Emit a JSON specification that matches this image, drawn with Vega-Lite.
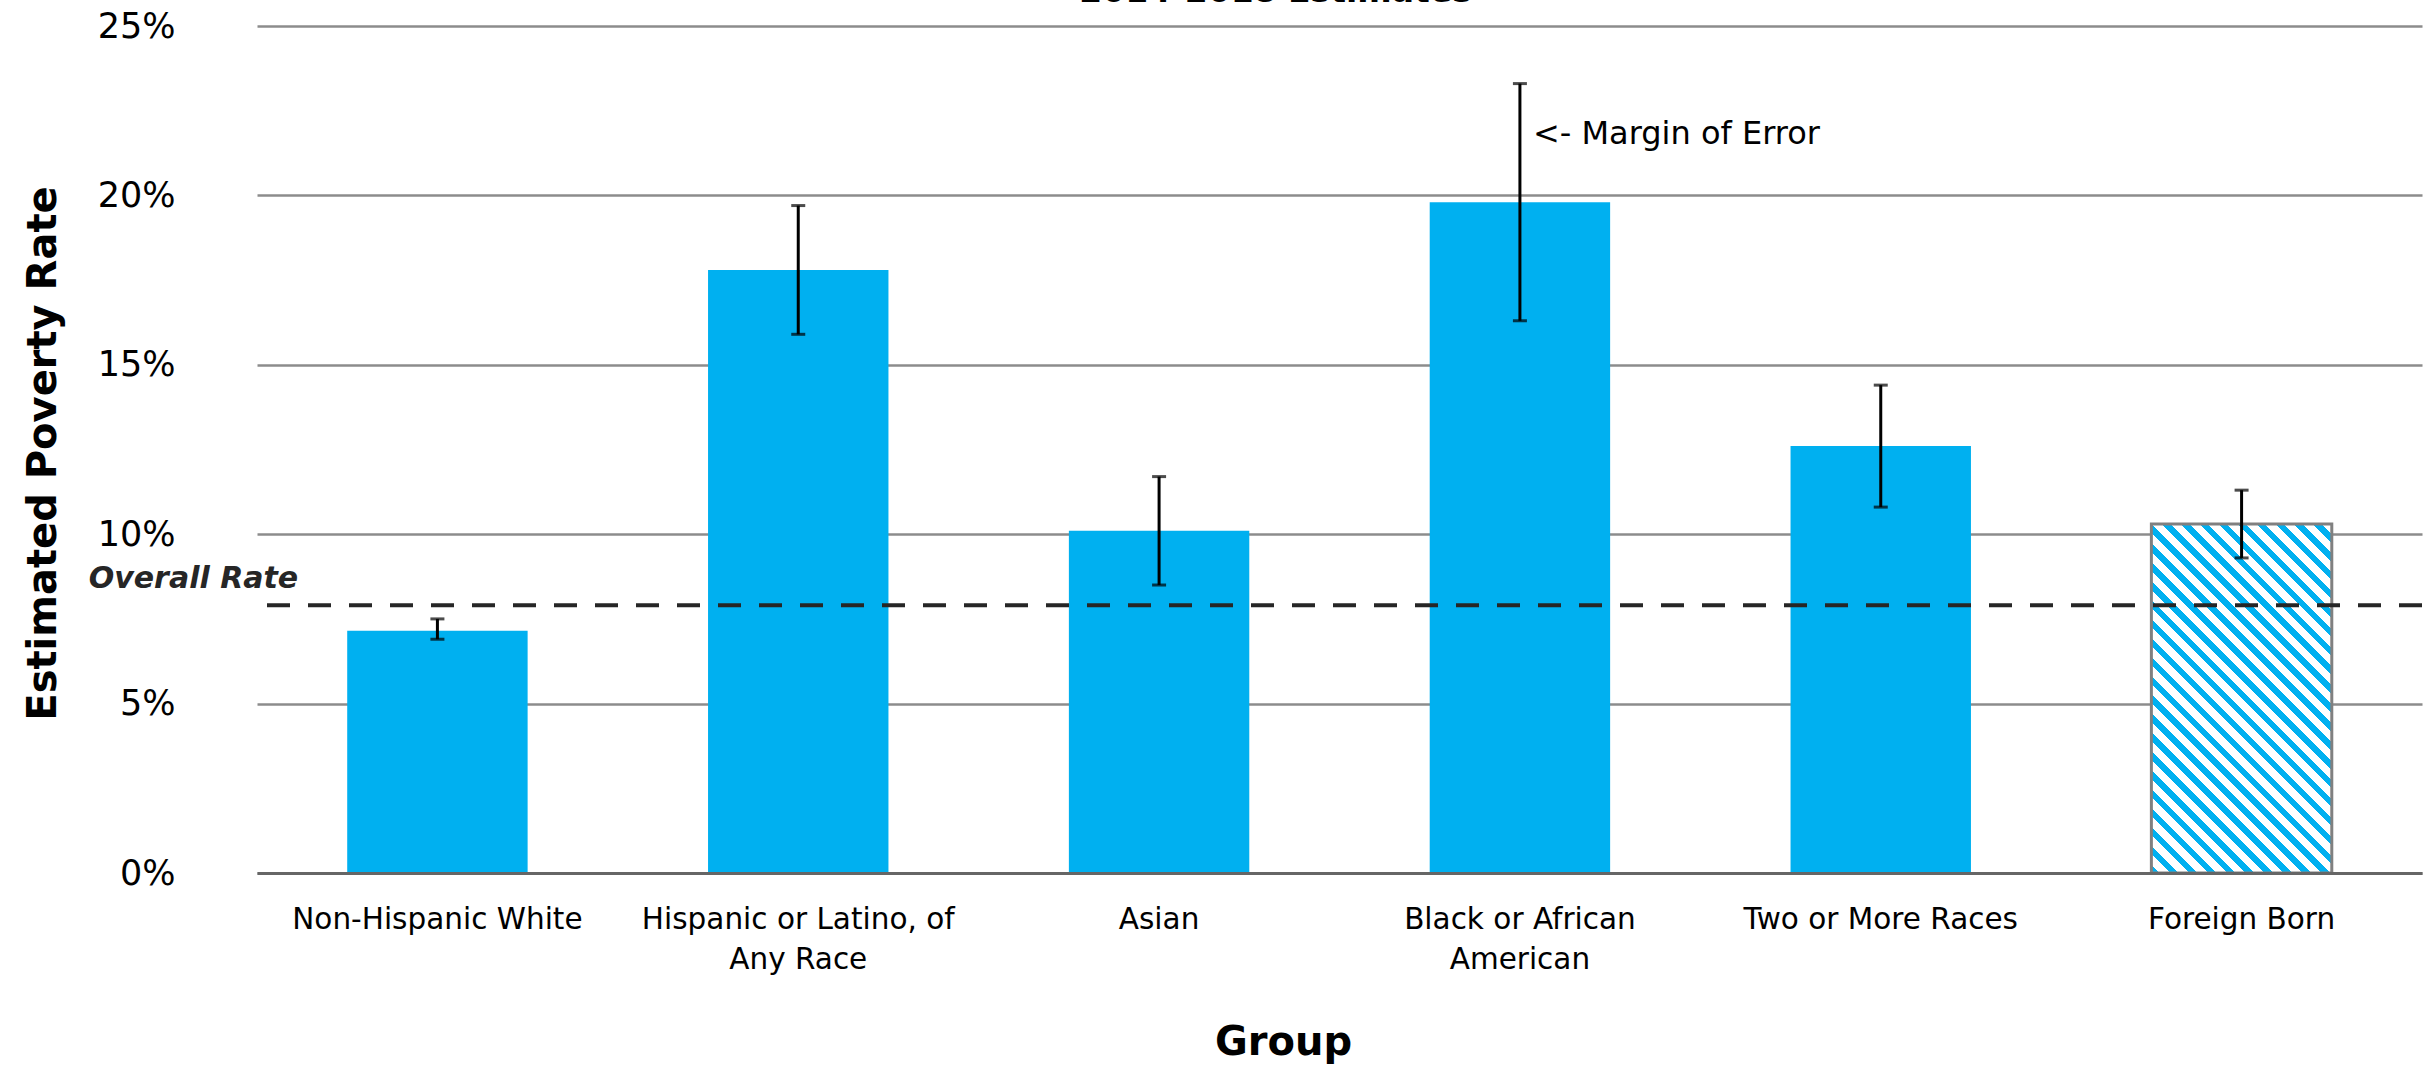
{
  "$schema": "https://vega.github.io/schema/vega-lite/v6.json",
  "autosize": {"type": "none"},
  "width": 2165,
  "height": 847,
  "padding": {"left": 257, "top": 26, "right": 13, "bottom": 196},
  "background": "#ffffff",
  "config": {"view": {"stroke": null}, "font": "DejaVu Sans"},
  "datasets": {
    "groups": [
      {"group": "Non-Hispanic White", "rate": 7.15, "low": 6.9, "high": 7.5},
      {"group": "Hispanic or Latino, of Any Race", "rate": 17.8, "low": 15.9, "high": 19.7},
      {"group": "Asian", "rate": 10.1, "low": 8.5, "high": 11.7},
      {"group": "Black or African American", "rate": 19.8, "low": 16.3, "high": 23.3},
      {"group": "Two or More Races", "rate": 12.6, "low": 10.8, "high": 14.4},
      {"group": "Foreign Born", "rate": 10.3, "low": 9.3, "high": 11.3}
    ],
    "overall": [{"label": "Overall Rate", "rate": 7.9}]
  },
  "data": {"name": "groups"},
  "layer": [
    {
      "transform": [{"filter": "datum.group != 'Foreign Born'"}],
      "mark": {"type": "bar", "fill": "#00B0F0"},
      "encoding": {
        "x": {"field": "group", "type": "nominal", "sort": null,
          "scale": {"domain": ["Non-Hispanic White", "Hispanic or Latino, of Any Race", "Asian", "Black or African American", "Two or More Races", "Foreign Born"], "paddingInner": 0.5, "paddingOuter": 0.25},
          "axis": {"title": "Group", "titleFontSize": 40, "titleFontWeight": "bold", "titleColor": "#000000", "titleX": 1026, "titleY": 169, "titleBaseline": "middle", "titleAlign": "center",
            "labelAngle": 0, "labelFontSize": 29.5, "labelColor": "#000000", "labelPadding": 32, "labelBaseline": "top", "labelLineHeight": 40, "labelLimit": 0,
            "labelExpr": "datum.value == 'Hispanic or Latino, of Any Race' ? ['Hispanic or Latino, of', 'Any Race'] : datum.value == 'Black or African American' ? ['Black or African', 'American'] : datum.label",
            "ticks": false, "tickSize": 0, "domainColor": "#666666", "domainWidth": 3, "grid": false, "zindex": 1}},
        "y": {"field": "rate", "type": "quantitative",
          "scale": {"domain": [0, 25], "nice": false, "zero": true},
          "axis": {"title": "Estimated Poverty Rate", "titleFontSize": 40, "titleFontWeight": "bold", "titleColor": "#000000", "titleX": -214, "titleY": 427, "titleBaseline": "middle", "titleAlign": "center", "titleAngle": -90,
            "values": [0, 5, 10, 15, 20, 25], "labelExpr": "datum.value + '%'", "labelFontSize": 35, "labelColor": "#000000", "labelPadding": 82, "labelBaseline": "middle",
            "ticks": false, "tickSize": 0, "domain": false, "grid": true, "gridColor": "#8c8c8c", "gridWidth": 2.5, "zindex": 0}}
      }
    },
    {
      "transform": [{"filter": "datum.group == 'Foreign Born'"}],
      "mark": {"type": "bar", "stroke": "#808080", "strokeWidth": 3,
        "fill": {"gradient": "linear", "x1": 0, "y1": 1, "x2": 0.6188, "y2": -0.1971,
          "stops": [
            {"offset": 0, "color": "#00B0F0"}, {"offset": 0.01607, "color": "#00B0F0"}, {"offset": 0.01607, "color": "#ffffff"}, {"offset": 0.03571, "color": "#ffffff"},
            {"offset": 0.03571, "color": "#00B0F0"}, {"offset": 0.05179, "color": "#00B0F0"}, {"offset": 0.05179, "color": "#ffffff"}, {"offset": 0.07143, "color": "#ffffff"},
            {"offset": 0.07143, "color": "#00B0F0"}, {"offset": 0.0875, "color": "#00B0F0"}, {"offset": 0.0875, "color": "#ffffff"}, {"offset": 0.10714, "color": "#ffffff"},
            {"offset": 0.10714, "color": "#00B0F0"}, {"offset": 0.12321, "color": "#00B0F0"}, {"offset": 0.12321, "color": "#ffffff"}, {"offset": 0.14286, "color": "#ffffff"},
            {"offset": 0.14286, "color": "#00B0F0"}, {"offset": 0.15893, "color": "#00B0F0"}, {"offset": 0.15893, "color": "#ffffff"}, {"offset": 0.17857, "color": "#ffffff"},
            {"offset": 0.17857, "color": "#00B0F0"}, {"offset": 0.19464, "color": "#00B0F0"}, {"offset": 0.19464, "color": "#ffffff"}, {"offset": 0.21429, "color": "#ffffff"},
            {"offset": 0.21429, "color": "#00B0F0"}, {"offset": 0.23036, "color": "#00B0F0"}, {"offset": 0.23036, "color": "#ffffff"}, {"offset": 0.25, "color": "#ffffff"},
            {"offset": 0.25, "color": "#00B0F0"}, {"offset": 0.26607, "color": "#00B0F0"}, {"offset": 0.26607, "color": "#ffffff"}, {"offset": 0.28571, "color": "#ffffff"},
            {"offset": 0.28571, "color": "#00B0F0"}, {"offset": 0.30179, "color": "#00B0F0"}, {"offset": 0.30179, "color": "#ffffff"}, {"offset": 0.32143, "color": "#ffffff"},
            {"offset": 0.32143, "color": "#00B0F0"}, {"offset": 0.3375, "color": "#00B0F0"}, {"offset": 0.3375, "color": "#ffffff"}, {"offset": 0.35714, "color": "#ffffff"},
            {"offset": 0.35714, "color": "#00B0F0"}, {"offset": 0.37321, "color": "#00B0F0"}, {"offset": 0.37321, "color": "#ffffff"}, {"offset": 0.39286, "color": "#ffffff"},
            {"offset": 0.39286, "color": "#00B0F0"}, {"offset": 0.40893, "color": "#00B0F0"}, {"offset": 0.40893, "color": "#ffffff"}, {"offset": 0.42857, "color": "#ffffff"},
            {"offset": 0.42857, "color": "#00B0F0"}, {"offset": 0.44464, "color": "#00B0F0"}, {"offset": 0.44464, "color": "#ffffff"}, {"offset": 0.46429, "color": "#ffffff"},
            {"offset": 0.46429, "color": "#00B0F0"}, {"offset": 0.48036, "color": "#00B0F0"}, {"offset": 0.48036, "color": "#ffffff"}, {"offset": 0.5, "color": "#ffffff"},
            {"offset": 0.5, "color": "#00B0F0"}, {"offset": 0.51607, "color": "#00B0F0"}, {"offset": 0.51607, "color": "#ffffff"}, {"offset": 0.53571, "color": "#ffffff"},
            {"offset": 0.53571, "color": "#00B0F0"}, {"offset": 0.55179, "color": "#00B0F0"}, {"offset": 0.55179, "color": "#ffffff"}, {"offset": 0.57143, "color": "#ffffff"},
            {"offset": 0.57143, "color": "#00B0F0"}, {"offset": 0.5875, "color": "#00B0F0"}, {"offset": 0.5875, "color": "#ffffff"}, {"offset": 0.60714, "color": "#ffffff"},
            {"offset": 0.60714, "color": "#00B0F0"}, {"offset": 0.62321, "color": "#00B0F0"}, {"offset": 0.62321, "color": "#ffffff"}, {"offset": 0.64286, "color": "#ffffff"},
            {"offset": 0.64286, "color": "#00B0F0"}, {"offset": 0.65893, "color": "#00B0F0"}, {"offset": 0.65893, "color": "#ffffff"}, {"offset": 0.67857, "color": "#ffffff"},
            {"offset": 0.67857, "color": "#00B0F0"}, {"offset": 0.69464, "color": "#00B0F0"}, {"offset": 0.69464, "color": "#ffffff"}, {"offset": 0.71429, "color": "#ffffff"},
            {"offset": 0.71429, "color": "#00B0F0"}, {"offset": 0.73036, "color": "#00B0F0"}, {"offset": 0.73036, "color": "#ffffff"}, {"offset": 0.75, "color": "#ffffff"},
            {"offset": 0.75, "color": "#00B0F0"}, {"offset": 0.76607, "color": "#00B0F0"}, {"offset": 0.76607, "color": "#ffffff"}, {"offset": 0.78571, "color": "#ffffff"},
            {"offset": 0.78571, "color": "#00B0F0"}, {"offset": 0.80179, "color": "#00B0F0"}, {"offset": 0.80179, "color": "#ffffff"}, {"offset": 0.82143, "color": "#ffffff"},
            {"offset": 0.82143, "color": "#00B0F0"}, {"offset": 0.8375, "color": "#00B0F0"}, {"offset": 0.8375, "color": "#ffffff"}, {"offset": 0.85714, "color": "#ffffff"},
            {"offset": 0.85714, "color": "#00B0F0"}, {"offset": 0.87321, "color": "#00B0F0"}, {"offset": 0.87321, "color": "#ffffff"}, {"offset": 0.89286, "color": "#ffffff"},
            {"offset": 0.89286, "color": "#00B0F0"}, {"offset": 0.90893, "color": "#00B0F0"}, {"offset": 0.90893, "color": "#ffffff"}, {"offset": 0.92857, "color": "#ffffff"},
            {"offset": 0.92857, "color": "#00B0F0"}, {"offset": 0.94464, "color": "#00B0F0"}, {"offset": 0.94464, "color": "#ffffff"}, {"offset": 0.96429, "color": "#ffffff"},
            {"offset": 0.96429, "color": "#00B0F0"}, {"offset": 0.98036, "color": "#00B0F0"}, {"offset": 0.98036, "color": "#ffffff"}, {"offset": 1, "color": "#ffffff"}
          ]}},
      "encoding": {
        "x": {"field": "group", "type": "nominal", "sort": null},
        "y": {"field": "rate", "type": "quantitative"}
      }
    },
    {
      "data": {"name": "overall"},
      "mark": {"type": "rule", "color": "#262626", "strokeWidth": 4, "strokeDash": [23, 18]},
      "encoding": {"y": {"field": "rate", "type": "quantitative"}}
    },
    {
      "mark": {"type": "rule", "color": "#000000", "strokeWidth": 3},
      "encoding": {
        "x": {"field": "group", "type": "nominal", "sort": null},
        "y": {"field": "low", "type": "quantitative"},
        "y2": {"field": "high"}
      }
    },
    {
      "mark": {"type": "tick", "color": "#000000", "thickness": 3, "size": 14, "orient": "horizontal"},
      "encoding": {
        "x": {"field": "group", "type": "nominal", "sort": null},
        "y": {"field": "low", "type": "quantitative"}
      }
    },
    {
      "mark": {"type": "tick", "color": "#000000", "thickness": 3, "size": 14, "orient": "horizontal"},
      "encoding": {
        "x": {"field": "group", "type": "nominal", "sort": null},
        "y": {"field": "high", "type": "quantitative"}
      }
    },
    {
      "data": {"name": "overall"},
      "mark": {"type": "text", "font": "DejaVu Sans", "fontSize": 30, "fontWeight": "bold", "fontStyle": "italic", "color": "#262626", "align": "right", "baseline": "middle", "dx": -49},
      "encoding": {
        "x": {"datum": "Non-Hispanic White", "type": "nominal", "bandPosition": 0},
        "y": {"datum": 8.68, "type": "quantitative"},
        "text": {"field": "label"}
      }
    },
    {
      "data": {"values": [{"label": "<- Margin of Error", "group": "Black or African American"}]},
      "mark": {"type": "text", "font": "DejaVu Sans", "fontSize": 32, "color": "#000000", "align": "left", "baseline": "middle", "dx": 13},
      "encoding": {
        "x": {"field": "group", "type": "nominal", "sort": null},
        "y": {"datum": 21.8, "type": "quantitative"},
        "text": {"field": "label"}
      }
    },
    {
      "data": {"values": [{"label": "2014-2018 Estimates"}]},
      "mark": {"type": "text", "font": "DejaVu Sans", "fontSize": 33, "fontWeight": "bold", "color": "#000000", "align": "center", "baseline": "alphabetic", "dx": -64},
      "encoding": {
        "x": {"datum": "Asian", "type": "nominal", "bandPosition": 1.5},
        "y": {"datum": 25.7, "type": "quantitative"},
        "text": {"field": "label"}
      }
    }
  ]
}
